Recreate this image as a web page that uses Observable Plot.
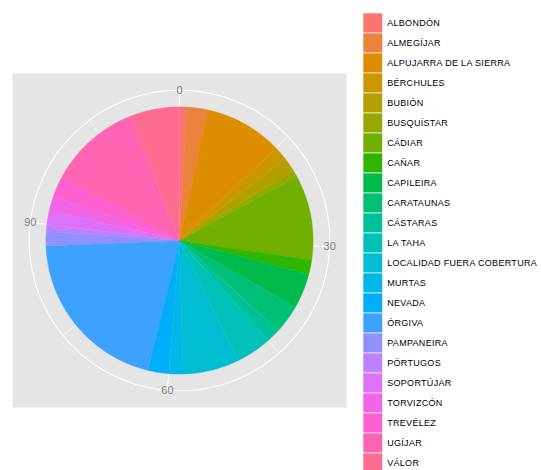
<!DOCTYPE html>
<html>
<head>
<meta charset="utf-8">
<script src="https://cdn.jsdelivr.net/npm/d3@7"></script>
<script src="https://cdn.jsdelivr.net/npm/@observablehq/plot@0.6"></script>
<style>
  html, body { margin: 0; padding: 0; background: #ffffff; }
  #wrap { position: relative; width: 541px; height: 470px; overflow: hidden; }
  #pie { position: absolute; left: 0; top: 0; }
  #leg { position: absolute; left: 355px; top: 0; }
  .leg text { letter-spacing: 0.3px; }
</style>
</head>
<body>
<div id="wrap"><div id="pie"></div><div id="leg"></div></div>
<script>
// ---- data ----
const municipios = [
  "ALBONDÓN", "ALMEGÍJAR", "ALPUJARRA DE LA SIERRA", "BÉRCHULES", "BUBIÓN",
  "BUSQUÍSTAR", "CÁDIAR", "CAÑAR", "CAPILEIRA", "CARATAUNAS", "CÁSTARAS",
  "LA TAHA", "LOCALIDAD FUERA COBERTURA", "MURTAS", "NEVADA", "ÓRGIVA",
  "PAMPANEIRA", "PÓRTUGOS", "SOPORTÚJAR", "TORVIZCÓN", "TREVÉLEZ", "UGÍJAR", "VÁLOR"
];
const casos = [1, 3, 11, 2, 2, 1, 12, 2, 5, 4, 2, 5, 8, 2, 3, 24, 2, 1, 2, 2, 3, 13, 7];
const thetaBreaks = [0, 30, 60, 90];
const thetaMinor = [15, 45, 75, 105];

// ---- ggplot-like hue palette (hcl, c=100, l=65) ----
function hcl2hex(h, c, l) {
  const WX = 95.047, WY = 100, WZ = 108.883;
  const hr = h * Math.PI / 180;
  const U = c * Math.cos(hr), V = c * Math.sin(hr);
  const Y = WY * (l > 7.999592 ? Math.pow((l + 16) / 116, 3) : l / 903.3);
  const t = WX + WY + WZ, x = WX / t, y = WY / t;
  const uN = 2 * x / (6 * y - x + 1.5), vN = 4.5 * y / (6 * y - x + 1.5);
  const u = U / (13 * l) + uN, v = V / (13 * l) + vN;
  const X = 9 * Y * u / (4 * v);
  const Z = -X / 3 - 5 * Y + 3 * Y / v;
  const g = q => q > 0.00304 ? 1.055 * Math.pow(q, 1 / 2.4) - 0.055 : 12.92 * q;
  const ch = q => Math.round(Math.max(0, Math.min(1, g(q))) * 255).toString(16).padStart(2, "0");
  return "#" + ch((3.240479 * X - 1.537150 * Y - 0.498535 * Z) / WY)
             + ch((-0.969256 * X + 1.875992 * Y + 0.041556 * Z) / WY)
             + ch((0.055648 * X - 0.204043 * Y + 1.057311 * Z) / WY);
}
const n = municipios.length;
const palette = municipios.map((_, i) => hcl2hex(15 + i * 360 / n, 100, 65));

// ---- polar geometry (ggplot coord_polar: pie r=0.4, outer 0.45) ----
const total = d3.sum(casos);
const R = 0.4, RO = 0.45;
const ang = v => v / total * 2 * Math.PI;

const slices = [];
let cum = 0;
municipios.forEach((m, i) => {
  const a = cum, b = cum + casos[i];
  cum = b;
  const steps = Math.max(4, Math.ceil(casos[i] * 6));
  slices.push({m, x: 0, y: 0});
  for (let k = 0; k <= steps; k++) {
    const t = ang(a + (b - a) * k / steps);
    slices.push({m, x: R * Math.sin(t), y: R * Math.cos(t)});
  }
  slices.push({m, x: 0, y: 0});
});

const circle = d3.range(0, 361, 2).map(d => ({x: RO * Math.sin(d * Math.PI / 180), y: RO * Math.cos(d * Math.PI / 180)}));
const spoke = v => ({x1: 0, y1: 0, x2: RO * Math.sin(ang(v)), y2: RO * Math.cos(ang(v)), v});

const color = {domain: municipios, range: palette};
const font = "'Liberation Sans', Arial, Helvetica, sans-serif";

const pie = Plot.plot({
  width: 355, height: 470,
  marginLeft: 12, marginRight: 9, marginTop: 73, marginBottom: 63,
  x: {domain: [-0.5, 0.5], axis: null},
  y: {domain: [-0.5, 0.5], axis: null},
  color,
  style: {fontFamily: font, background: "transparent"},
  marks: [
    Plot.frame({fill: "#e5e5e5", stroke: "none"}),
    Plot.link(thetaMinor.map(spoke), {x1: "x1", y1: "y1", x2: "x2", y2: "y2", stroke: "white", strokeWidth: 0.6}),
    Plot.link(thetaBreaks.map(spoke), {x1: "x1", y1: "y1", x2: "x2", y2: "y2", stroke: "white", strokeWidth: 1.1}),
    Plot.line(circle, {x: "x", y: "y", stroke: "white", strokeWidth: 1.1}),
    Plot.line(slices, {x: "x", y: "y", z: "m", fill: "m", stroke: "m", strokeWidth: 0.4, curve: "linear"}),
    Plot.text(thetaBreaks.map(spoke), {x: "x2", y: "y2", text: d => String(d.v), fill: "#7f7f7f", fontSize: 11})
  ]
});
document.getElementById("pie").appendChild(pie);

const leg = Plot.plot({
  className: "leg",
  width: 186, height: 470,
  margin: 0,
  x: {domain: [0, 186], range: [0, 186], axis: null},
  y: {domain: municipios, range: [11, 475.5], padding: 0, axis: null},
  color,
  style: {fontFamily: font, background: "transparent"},
  marks: [
    Plot.barX(municipios, {x1: 8, x2: 27.5, y: d => d, fill: d => d, stroke: "#f2f2f2", strokeWidth: 0.7}),
    Plot.text(municipios, {x: 31.7, y: d => d, text: d => d, textAnchor: "start", fontSize: 9, fill: "black"})
  ]
});
document.getElementById("leg").appendChild(leg);
</script>
</body>
</html>
